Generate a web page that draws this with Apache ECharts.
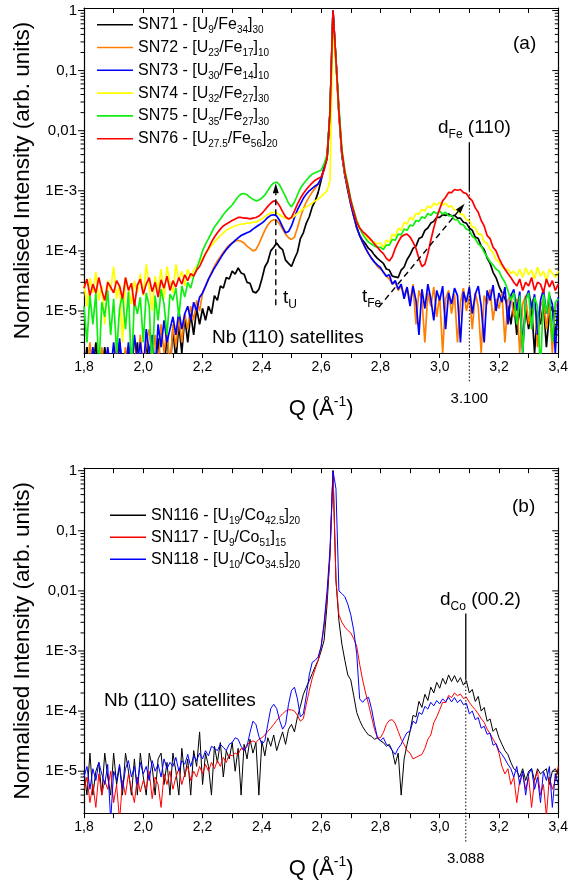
<!DOCTYPE html>
<html>
<head>
<meta charset="utf-8">
<script src="https://cdn.jsdelivr.net/npm/echarts@6.0.0/dist/echarts.min.js"></script>
<style>
  html, body { margin: 0; padding: 0; background: #fff; }
  #chart { width: 571px; height: 884px; }
</style>
</head>
<body>
<div id="chart"></div>
<script>
// ---- scan grid: Q in 1/Å, 0.01 steps from 1.80 to 3.40 ----
const Q_FIRST = 1.8, Q_LAST = 3.4;
const Q = [];
for (let i = 0; i <= 160; i++) Q.push(Math.round((Q_FIRST + i * 0.01) * 100) / 100);

// ---- panel (a): U/Fe multilayers ----
const feNames = ['SN71', 'SN72', 'SN73', 'SN74', 'SN75', 'SN76'];
const feU  = ['9', '23', '30', '32', '35', '27.5'];
const feFe = ['34', '17', '14', '27', '27', '56'];
const feN  = ['30', '10', '10', '30', '30', '20'];
const feColors = ['#000000', '#ff8000', '#0000ff', '#ffff00', '#10ee10', '#ff0000'];

const sn71 = [
  1e-6,2.5e-6,1e-6,1e-6,3e-6,1e-6,1e-6,2.5e-6,1e-6,1e-6,
  1e-6,1e-6,3e-6,1e-6,1e-6,2.5e-6,1e-6,1e-6,3e-6,1e-6,
  1e-6,3e-6,1e-6,2.5e-6,1e-6,3.5e-6,1e-6,1e-6,4e-6,1e-6,
  5e-6,1.5e-6,6e-6,2e-6,8e-6,3e-6,9e-6,4e-6,1.1e-5,6e-6,
  1.1e-5,7e-6,1.2e-5,9e-6,1.8e-5,1.5e-5,2.6e-5,2.4e-5,3.6e-5,3.4e-5,
  4.6e-5,4.1e-5,5.2e-5,4.3e-5,4.1e-5,3e-5,2.9e-5,2.1e-5,2e-5,2.3e-5,
  3.4e-5,5.4e-5,6.6e-5,1e-4,1.15e-4,1.35e-4,1.15e-4,1.05e-4,7e-5,6.2e-5,
  5.5e-5,7.4e-5,9.5e-5,1.6e-4,2e-4,2.9e-4,3.7e-4,5.4e-4,6.8e-4,9.4e-4,
  1.5e-3,2.4e-3,3.5e-3,0.02,1,0.15,0.02,4e-3,1.8e-3,1e-3,
  6e-4,3.8e-4,2.4e-4,1.8e-4,1.5e-4,1.3e-4,1.1e-4,1e-4,8.5e-5,7.5e-5,
  6.8e-5,6.2e-5,5e-5,4.8e-5,3.8e-5,3.7e-5,3.6e-5,4.8e-5,5.4e-5,7.2e-5,
  8.6e-5,1.1e-4,1.2e-4,1.6e-4,1.7e-4,2.2e-4,2.4e-4,2.9e-4,3.1e-4,3.6e-4,
  3.6e-4,4e-4,3.9e-4,4.1e-4,3.8e-4,3.9e-4,3.5e-4,3.5e-4,3e-4,2.9e-4,
  2.4e-4,2.2e-4,1.7e-4,1.6e-4,1.2e-4,1.05e-4,7.6e-5,6.2e-5,4.4e-5,3.6e-5,
  2.6e-5,2e-5,1.6e-5,1.2e-5,6e-6,1.4e-5,4e-6,1.2e-5,3e-6,1.1e-5,
  5e-6,1.2e-5,2e-6,1e-5,6e-6,1.3e-5,2.5e-6,9e-6,1.2e-5,4e-6,
  1e-5
];
const sn72 = [
  1e-6,1e-6,3e-6,1e-6,1e-6,1e-6,2.5e-6,1e-6,1e-6,1e-6,
  1e-6,3e-6,1e-6,1e-6,2.5e-6,1e-6,1e-6,3.5e-6,1e-6,4e-6,
  1e-6,3e-6,5e-6,1.5e-6,4e-6,1e-6,6e-6,2e-6,5e-6,1e-6,
  6e-6,2.5e-6,8e-6,3e-6,9e-6,5e-6,1.2e-5,7e-6,1.5e-5,1e-5,
  2e-5,2.6e-5,3.4e-5,4.4e-5,5.5e-5,6.8e-5,8e-5,9.5e-5,1.1e-4,1.25e-4,
  1.35e-4,1.45e-4,1.5e-4,1.45e-4,1.35e-4,1.2e-4,1.1e-4,1e-4,1.05e-4,1.3e-4,
  1.7e-4,2.2e-4,2.7e-4,3.1e-4,3.3e-4,3.2e-4,2.8e-4,2.3e-4,1.9e-4,1.65e-4,
  1.55e-4,1.7e-4,2.4e-4,3.6e-4,5e-4,6.5e-4,8e-4,9.5e-4,1.1e-3,1.3e-3,
  1.6e-3,2.4e-3,3.5e-3,0.02,1,0.15,0.02,4e-3,1.9e-3,1.1e-3,
  6e-4,3.8e-4,2.5e-4,1.8e-4,1.4e-4,1.1e-4,9e-5,7.5e-5,6.5e-5,5.5e-5,
  5e-5,4.5e-5,3.8e-5,3.4e-5,2.8e-5,3e-5,2.2e-5,2.6e-5,1.8e-5,2.5e-5,
  1.4e-5,2.8e-5,6e-6,2.2e-5,1.5e-5,3e-6,2e-5,1.2e-5,2.5e-5,8e-6,
  1.8e-5,2e-6,1.6e-5,2.2e-5,9e-6,1.9e-5,3e-6,1.4e-5,2.4e-5,1e-5,
  1.7e-5,5e-6,2e-5,1.2e-5,2e-6,1.8e-5,1.3e-5,2.3e-5,7e-6,1.6e-5,
  1.1e-5,2e-5,3e-6,1.5e-5,1.9e-5,8e-6,1.6e-5,2e-6,1.3e-5,1.8e-5,
  6e-6,1.4e-5,1.7e-5,2.5e-6,1.2e-5,1.6e-5,5e-6,1.4e-5,2e-6,1.1e-5,
  1.5e-5
];
const sn73 = [
  1e-6,1e-6,1e-6,2.5e-6,1e-6,1e-6,1e-6,1e-6,2.5e-6,1e-6,
  3e-6,1e-6,3.5e-6,1e-6,1e-6,3e-6,1e-6,4e-6,1.5e-6,3e-6,
  1e-6,5e-6,2e-6,4e-6,1e-6,6e-6,2.5e-6,7e-6,3e-6,5e-6,
  8e-6,4e-6,1e-5,5e-6,9e-6,1.2e-5,7e-6,1.4e-5,1e-5,1.7e-5,
  2e-5,2.6e-5,3.4e-5,4.2e-5,5.2e-5,6.2e-5,7.5e-5,9e-5,1.05e-4,1.2e-4,
  1.35e-4,1.5e-4,1.65e-4,1.8e-4,1.9e-4,2e-4,2.1e-4,2.3e-4,2.5e-4,2.7e-4,
  2.9e-4,3.2e-4,3.6e-4,3.9e-4,4e-4,3.8e-4,3.2e-4,2.5e-4,2e-4,2.1e-4,
  2.6e-4,3.6e-4,4.8e-4,6e-4,7.5e-4,8.8e-4,1e-3,1.1e-3,1.2e-3,1.3e-3,
  1.6e-3,2.4e-3,3.5e-3,0.02,1,0.15,0.02,4e-3,1.9e-3,1.1e-3,
  6e-4,3.8e-4,2.5e-4,1.8e-4,1.4e-4,1.1e-4,9e-5,7.5e-5,6.5e-5,5.8e-5,
  5.3e-5,4.4e-5,3.8e-5,4e-5,2.8e-5,3.2e-5,2.3e-5,2.8e-5,1.6e-5,2.5e-5,
  1.2e-5,2.6e-5,1.5e-5,4e-6,2.3e-5,1.1e-5,2.8e-5,1.6e-5,7e-6,2.2e-5,
  1.5e-5,2.6e-5,5e-6,2e-5,1.3e-5,2.4e-5,1.8e-5,3e-6,2.1e-5,1.4e-5,
  2.5e-5,9e-6,1.9e-5,2.6e-5,1.2e-5,3e-6,2.2e-5,1.5e-5,2.7e-5,1e-5,
  2e-5,1.4e-5,2.5e-5,6e-6,1.8e-5,2.3e-5,1e-5,2.1e-5,2e-6,1.6e-5,
  2.2e-5,1.1e-5,1.9e-5,4e-6,1.5e-5,2.3e-5,9e-6,1.8e-5,1.3e-5,2e-6,
  1.7e-5
];
const sn74 = [
  2.8e-5,1.2e-5,3.5e-5,2e-5,4.5e-5,1.5e-5,2.6e-5,6e-6,3.2e-5,2.2e-5,
  5.5e-5,1.6e-5,2.8e-5,3e-6,3.6e-5,2.4e-5,1.3e-5,3.2e-5,2e-5,4.2e-5,
  1.8e-5,6e-5,2.6e-5,1e-5,3.8e-5,2.2e-5,5e-5,1.6e-5,5.5e-5,3e-5,
  2e-5,6e-5,3.2e-5,4.6e-5,2.6e-5,5e-5,3.6e-5,4.8e-5,5.5e-5,6.5e-5,
  7.5e-5,9e-5,1.05e-4,1.25e-4,1.4e-4,1.6e-4,1.8e-4,2e-4,2.2e-4,2.35e-4,
  2.5e-4,2.6e-4,2.7e-4,2.8e-4,2.8e-4,2.9e-4,2.9e-4,3e-4,3e-4,3.2e-4,
  3.4e-4,3.7e-4,4e-4,4.3e-4,4.4e-4,4.3e-4,4e-4,3.7e-4,3.5e-4,3.4e-4,
  3.5e-4,3.8e-4,4.2e-4,4.6e-4,5e-4,5.4e-4,5.8e-4,6.3e-4,6.8e-4,7.3e-4,
  8e-4,9e-4,1e-3,1.5e-3,0.6,0.12,0.02,4.5e-3,2e-3,1.2e-3,
  7e-4,4.6e-4,3.2e-4,2.5e-4,2e-4,1.75e-4,1.6e-4,1.45e-4,1.4e-4,1.3e-4,
  1.35e-4,1.15e-4,1.5e-4,1.4e-4,1.9e-4,1.75e-4,2.35e-4,2.2e-4,3e-4,2.8e-4,
  3.6e-4,3.3e-4,4.2e-4,4.1e-4,4.9e-4,4.6e-4,5.6e-4,5.2e-4,6.2e-4,5.8e-4,
  6.4e-4,5.8e-4,6.2e-4,5.4e-4,5.6e-4,4.8e-4,4.8e-4,4.1e-4,4e-4,3.3e-4,
  3.2e-4,2.5e-4,2.45e-4,1.9e-4,1.9e-4,1.4e-4,1.35e-4,1.05e-4,9.5e-5,7.2e-5,
  6.5e-5,5.5e-5,4.8e-5,5e-5,4.2e-5,4.6e-5,3.8e-5,5e-5,3.6e-5,5.2e-5,
  4e-5,4.8e-5,3.4e-5,5.4e-5,3.8e-5,4.6e-5,3.2e-5,5e-5,4.2e-5,3.6e-5,
  4.6e-5
];
const sn75 = [
  1.2e-5,3e-6,1.8e-5,6e-6,2e-5,1e-6,1.4e-5,8e-6,2.2e-5,4e-6,
  1.6e-5,2e-6,1.1e-5,1.9e-5,5e-6,2.1e-5,1e-6,1.5e-5,9e-6,1.7e-5,
  3e-6,2e-5,1.2e-5,1e-6,1.8e-5,7e-6,2.3e-5,1.3e-5,4e-6,1.9e-5,
  1.5e-5,2.4e-5,8e-6,2.6e-5,1.7e-5,3e-5,2.4e-5,3.8e-5,5e-5,7e-5,
  1e-4,1.3e-4,1.6e-4,2e-4,2.5e-4,2.9e-4,3.4e-4,4e-4,4.6e-4,5.2e-4,
  5.8e-4,6.8e-4,8e-4,8.8e-4,9e-4,8.6e-4,7.8e-4,7.2e-4,6.8e-4,7e-4,
  7.6e-4,8.5e-4,1e-3,1.2e-3,1.35e-3,1.4e-3,1.25e-3,1e-3,8e-4,6.2e-4,
  5.4e-4,6.5e-4,8.5e-4,1.1e-3,1.3e-3,1.5e-3,1.7e-3,1.9e-3,2e-3,2.1e-3,
  2.2e-3,2.8e-3,4e-3,0.02,0.9,0.15,0.025,5e-3,2.2e-3,1.3e-3,
  7.2e-4,4.8e-4,3.2e-4,2.4e-4,1.9e-4,1.6e-4,1.4e-4,1.3e-4,1.2e-4,1.15e-4,
  1.15e-4,1.05e-4,1.25e-4,1.25e-4,1.55e-4,1.5e-4,1.9e-4,1.85e-4,2.3e-4,2.2e-4,
  2.7e-4,2.6e-4,3.2e-4,3.1e-4,3.7e-4,3.5e-4,4.2e-4,3.9e-4,4.5e-4,4.2e-4,
  4.6e-4,4.1e-4,4.4e-4,3.8e-4,3.9e-4,3.3e-4,3.3e-4,2.8e-4,2.7e-4,2.3e-4,
  2.2e-4,1.75e-4,1.6e-4,1.3e-4,1.2e-4,9.5e-5,8e-5,6.6e-5,5.8e-5,5e-5,
  4.6e-5,3.6e-5,3e-5,2.2e-5,1.5e-5,2e-5,6e-6,1.8e-5,2e-6,1.5e-5,
  2e-5,5e-6,1.7e-5,1.2e-5,1e-6,1.9e-5,9e-6,2.1e-5,3e-6,1.4e-5,
  1.6e-5
];
const sn76 = [
  2.4e-5,3.4e-5,1.8e-5,2.8e-5,2e-5,3.6e-5,2.2e-5,1.5e-5,3e-5,2.5e-5,
  2e-5,3.2e-5,2.6e-5,1.6e-5,3.6e-5,2.2e-5,2.9e-5,1.2e-5,2.7e-5,3.4e-5,
  1.9e-5,2.8e-5,3.6e-5,2.1e-5,3e-5,1.7e-5,3.3e-5,2.4e-5,3.8e-5,2.2e-5,
  3.2e-5,2.5e-5,3.6e-5,2.8e-5,4e-5,3.2e-5,4.2e-5,3.8e-5,4.8e-5,5.5e-5,
  7e-5,9e-5,1.1e-4,1.4e-4,1.7e-4,2e-4,2.3e-4,2.6e-4,2.8e-4,3e-4,
  3.2e-4,3.4e-4,3.6e-4,3.6e-4,3.5e-4,3.5e-4,3.4e-4,3.5e-4,3.6e-4,3.8e-4,
  4.2e-4,4.8e-4,5.5e-4,6.2e-4,6.8e-4,6.6e-4,5.6e-4,4.5e-4,3.7e-4,3.4e-4,
  3.6e-4,4.6e-4,6e-4,7.5e-4,9e-4,1.05e-3,1.2e-3,1.35e-3,1.5e-3,1.6e-3,
  1.7e-3,2.2e-3,3.5e-3,0.02,1,0.15,0.02,4.5e-3,2e-3,1.2e-3,
  6.8e-4,4.5e-4,3e-4,2.4e-4,2.1e-4,1.9e-4,1.7e-4,1.5e-4,1.3e-4,1.15e-4,
  1e-4,9e-5,7.5e-5,6.8e-5,8e-5,1.1e-4,1.4e-4,1.7e-4,1.85e-4,1.9e-4,
  1.7e-4,1.4e-4,1.1e-4,7.5e-5,5.5e-5,6e-5,9e-5,1.5e-4,2.4e-4,3.6e-4,
  5e-4,6.8e-4,7.8e-4,9.4e-4,9.3e-4,1.05e-3,1.02e-3,1.05e-3,9.3e-4,9e-4,
  7.6e-4,6.8e-4,5.2e-4,4.4e-4,3.2e-4,2.6e-4,1.8e-4,1.6e-4,1.15e-4,1e-4,
  7.5e-5,6e-5,5e-5,4.2e-5,3.6e-5,3e-5,2.6e-5,3.4e-5,2.2e-5,3e-5,
  2.6e-5,3.6e-5,2.2e-5,3e-5,2.8e-5,2e-5,3.4e-5,2.5e-5,3.2e-5,2.2e-5,
  2.8e-5
];

// ---- panel (b): U/Co multilayers ----
const coNames = ['SN116', 'SN117', 'SN118'];
const coU  = ['19', '9', '10'];
const coCo = ['42.5', '51', '34.5'];
const coN  = ['20', '15', '20'];
const coColors = ['#000000', '#ff0000', '#0000ff'];

const sn116 = [
  1e-5,4e-6,2e-5,4e-6,1e-5,1.4e-5,4e-6,2e-5,8e-6,4e-6,
  2e-5,6e-6,1.2e-5,4e-6,2e-5,1e-5,4e-6,1.6e-5,4e-6,2e-5,
  8e-6,4e-6,2e-5,1.2e-5,4e-6,1.6e-5,2e-5,6e-6,1.4e-5,4e-6,
  2e-5,1e-5,4e-6,2.4e-5,8e-6,1.6e-5,4e-6,2.2e-5,1.2e-5,4.5e-5,
  6e-6,2e-5,1.2e-5,4e-6,2.6e-5,1.4e-5,3e-5,8e-6,2.2e-5,1.6e-5,
  3e-5,1e-5,2.4e-5,4e-6,2.8e-5,1.6e-5,3.4e-5,2e-5,3e-5,4e-6,
  3.2e-5,1.8e-5,3.6e-5,2.6e-5,4e-5,2.2e-5,3.2e-5,4.5e-5,2.8e-5,5e-5,
  6e-5,4.5e-5,8e-5,1.2e-4,1.9e-4,2.5e-4,3.2e-4,4.2e-4,5.5e-4,7e-4,
  1e-3,1.5e-3,6e-3,0.04,1,0.015,3.2e-3,1.3e-3,7e-4,4e-4,
  3.3e-4,1.8e-4,9.5e-5,7e-5,5.5e-5,4.6e-5,4e-5,3.8e-5,3.4e-5,3.6e-5,
  3.2e-5,3e-5,2.6e-5,2.8e-5,2.2e-5,1.3e-5,2e-5,4e-6,1.6e-5,2.8e-5,
  4.6e-5,8.5e-5,8e-5,1.45e-4,1.15e-4,1.9e-4,1.5e-4,2.5e-4,2e-4,3e-4,
  2.4e-4,3.5e-4,2.8e-4,4e-4,3.1e-4,3.9e-4,3e-4,3.6e-4,2.7e-4,3.2e-4,
  2e-4,2.3e-4,1.45e-4,1.75e-4,1e-4,1.15e-4,6.8e-5,7.4e-5,4.6e-5,5.2e-5,
  3.6e-5,2.8e-5,2.2e-5,1.9e-5,1.4e-5,1.1e-5,1e-5,8e-6,1.1e-5,7e-6,
  1e-5,1.1e-5,7e-6,1.1e-5,9e-6,1e-5,1.1e-5,6e-6,1e-5,1.1e-5,
  9e-6
];
const sn117 = [
  5e-6,8e-6,3e-6,6e-6,2.5e-6,9e-6,4e-6,7e-6,5e-6,1e-5,
  3e-6,6e-6,1.5e-6,7e-6,4e-6,9e-6,5e-6,3e-6,8e-6,4.5e-6,
  7e-6,5e-6,1e-5,3.5e-6,8e-6,6e-6,2.5e-6,9e-6,6e-6,1e-5,
  5e-6,8e-6,1.1e-5,6e-6,9e-6,1.2e-5,7e-6,1e-5,8e-6,1.2e-5,
  9e-6,1.3e-5,1e-5,1.4e-5,1.1e-5,1.5e-5,1.2e-5,1.7e-5,1.4e-5,1.9e-5,
  1.8e-5,2e-5,1.9e-5,2.4e-5,2.2e-5,2.8e-5,3e-5,3.2e-5,3e-5,3.4e-5,
  3.6e-5,4e-5,4.6e-5,5.2e-5,6e-5,7e-5,8e-5,9e-5,1e-4,1.05e-4,
  1.05e-4,1e-4,8.5e-5,6.8e-5,7.5e-5,1.3e-4,2.2e-4,3.5e-4,5e-4,7e-4,
  1.2e-3,2.5e-3,8e-3,0.04,1,0.015,4e-3,3e-3,2.5e-3,2.2e-3,
  2e-3,1.6e-3,1.2e-3,6e-4,3.3e-4,2e-4,1.3e-4,8e-5,5e-5,3.6e-5,
  3.6e-5,4.4e-5,6e-5,7e-5,7.2e-5,6.2e-5,4.6e-5,3.4e-5,2.8e-5,2.2e-5,
  2e-5,1.6e-5,1.7e-5,1.8e-5,1.9e-5,2.4e-5,3.4e-5,4e-5,6.4e-5,8e-5,
  1.05e-4,1.4e-4,1.38e-4,1.82e-4,1.68e-4,2e-4,1.8e-4,1.92e-4,1.62e-4,1.7e-4,
  1.4e-4,1.2e-4,1.05e-4,9e-5,7.5e-5,6.5e-5,5e-5,4.2e-5,3.4e-5,2.8e-5,
  2e-5,1.2e-5,9e-6,1.1e-5,6e-6,8e-6,3e-6,7e-6,9e-6,5e-6,
  8e-6,2.5e-6,7e-6,1e-5,4e-6,6e-6,1.8e-6,8e-6,5e-6,7e-6,
  1.2e-5
];
const sn118 = [
  8e-6,1.2e-5,5e-6,1.1e-5,7e-6,1.4e-5,9e-6,6e-6,1.3e-5,1.5e-6,
  1e-5,7e-6,1.3e-5,5e-6,1.1e-5,1.5e-5,8e-6,1.2e-5,6e-6,1.4e-5,
  9e-6,1.2e-5,7e-6,1.5e-5,1e-5,1.3e-5,8e-6,1.6e-5,1.1e-5,1.4e-5,
  1.2e-5,1.7e-5,1e-5,1.5e-5,1.3e-5,1.9e-5,1.2e-5,1.8e-5,1.5e-5,2e-5,
  1.6e-5,2.2e-5,1.8e-5,2.6e-5,2.4e-5,2.2e-5,2.8e-5,2.5e-5,2.2e-5,2.8e-5,
  3e-5,3.6e-5,3.4e-5,2.6e-5,2.2e-5,2.6e-5,4.4e-5,6.8e-5,6e-5,3.8e-5,
  2.8e-5,3.2e-5,6e-5,1.1e-4,1.3e-4,1.1e-4,7e-5,5e-5,6e-5,1.3e-4,
  2.2e-4,2.5e-4,1.6e-4,8e-5,9e-5,1.8e-4,4e-4,6.5e-4,7e-4,8e-4,
  1.2e-3,3e-3,1e-2,0.05,1,0.5,1e-2,9e-3,8e-3,6e-3,
  4e-3,2.2e-3,9e-4,1.6e-4,1.4e-4,1.6e-4,1.7e-4,1.1e-4,6e-5,3.6e-5,
  3.2e-5,3.6e-5,2.8e-5,2.6e-5,2.2e-5,1.9e-5,2.4e-5,2.8e-5,3.6e-5,4.4e-5,
  4.6e-5,6.8e-5,6.2e-5,9.5e-5,8.8e-5,1.2e-4,1.08e-4,1.4e-4,1.22e-4,1.5e-4,
  1.32e-4,1.6e-4,1.42e-4,1.7e-4,1.42e-4,1.68e-4,1.38e-4,1.55e-4,1.28e-4,1.35e-4,
  9e-5,1e-4,7.2e-5,7.8e-5,5.2e-5,5.6e-5,4.1e-5,4.3e-5,2.7e-5,2.9e-5,
  2.2e-5,1.9e-5,1.6e-5,1.3e-5,1.1e-5,8e-6,1.2e-5,6e-6,1e-5,4e-6,
  9e-6,1.1e-5,5e-6,8e-6,3e-6,1e-5,7e-6,1.2e-5,2.5e-6,9e-6,
  6e-6
];

// ---- annotation anchors (Q in 1/Å, intensity) ----
const feMarkQ = 3.1;      // d_Fe (110)
const coMarkQ = 3.088;    // d_Co (00.2)
const tUArrow  = { from: [2.447, 1.25e-5], to: [2.447, 1.34e-3] };
const tFeArrow = { from: [2.794, 1.15e-5], to: [3.084, 6.1e-4] };

// ---- axes ----
const Y_MIN = 2e-6, Y_MAX = 1.1;
const F = "'Liberation Sans', Arial, Helvetica, sans-serif";

function yLabel(v) {
  const l = Math.log10(v), e = Math.round(l);
  if (Math.abs(l - e) > 1e-6) return '';
  if (e === 0) return '1';
  if (e === -1) return '0,1';
  if (e === -2) return '0,01';
  return '1E' + e;
}
function xLabel(v) {
  const k = Math.round(v * 10);
  return k % 2 === 0 ? (k / 10).toFixed(1).replace('.', ',') : '';
}

// decade and sub-decade tick marks for the logarithmic intensity axes
const yTicks = [];
for (let d = -6; d <= 0; d++) {
  for (let m = 1; m <= 9; m++) {
    const v = m * Math.pow(10, d);
    if (v > Y_MIN * 1.01 && v <= 1.0000001) yTicks.push([Q_FIRST, v, m === 1 ? 6 : 3.5]);
  }
}

const grids = [
  { left: 84, width: 479, top: 8, height: 345 },
  { left: 84, width: 479, top: 468.2, height: 345 }
];

const qTitleRich = {
  m: { fontSize: 22, lineHeight: 28, fontFamily: F, color: '#000', verticalAlign: 'middle' },
  p: { fontSize: 14, lineHeight: 6, fontFamily: F, color: '#000', verticalAlign: 'top' }
};

function xAxes(g) {
  return [
    {
      type: 'value', gridIndex: g, position: 'bottom', min: Q_FIRST, max: Q_LAST, interval: 0.1,
      axisLine: { show: true, onZero: false, lineStyle: { color: '#000', width: 1.2 } },
      axisTick: { show: true, inside: false, length: 5, lineStyle: { color: '#000', width: 1 } },
      axisLabel: { formatter: xLabel, fontSize: 14, fontFamily: F, color: '#000', margin: 7 },
      splitLine: { show: false },
      name: '{m|Q (Å}{p|-1}{m|)}', nameLocation: 'middle', nameGap: 42,
      nameTextStyle: { rich: qTitleRich, fontFamily: F, fontSize: 22, color: '#000' }
    },
    {
      type: 'value', gridIndex: g, position: 'top', min: Q_FIRST, max: Q_LAST, interval: 0.1,
      axisLine: { show: true, onZero: false, lineStyle: { color: '#000', width: 1.2 } },
      axisTick: { show: true, inside: true, length: 5, lineStyle: { color: '#000', width: 1 } },
      axisLabel: { show: false }, splitLine: { show: false }
    }
  ];
}
function yAxes(g) {
  return [
    {
      type: 'log', logBase: 10, gridIndex: g, position: 'left', min: Y_MIN, max: Y_MAX, splitNumber: 6,
      axisLine: { show: true, onZero: false, lineStyle: { color: '#000', width: 1.2 } },
      axisTick: { show: false },
      axisLabel: { formatter: yLabel, fontSize: 15, fontFamily: F, color: '#000', margin: 7 },
      splitLine: { show: false },
      name: 'Normalised Intensity (arb. units)', nameLocation: 'middle', nameGap: 50,
      nameTextStyle: { fontSize: 22.5, fontFamily: F, color: '#000' }
    },
    {
      type: 'log', logBase: 10, gridIndex: g, position: 'right', min: Y_MIN, max: Y_MAX, splitNumber: 6,
      axisLine: { show: true, onZero: false, lineStyle: { color: '#000', width: 1.2 } },
      axisTick: { show: false }, axisLabel: { show: false }, splitLine: { show: false }
    }
  ];
}

function tickSeries(g) {
  return {
    type: 'custom', xAxisIndex: 2 * g, yAxisIndex: 2 * g, silent: true, clip: false, z: 5,
    data: yTicks,
    renderItem(params, api) {
      const v = api.value(1), len = api.value(2);
      const l = api.coord([Q_FIRST, v]), r = api.coord([Q_LAST, v]);
      return {
        type: 'group',
        children: [
          { type: 'line', shape: { x1: l[0] - len, y1: l[1], x2: l[0], y2: l[1] }, style: { stroke: '#000', lineWidth: 1 } },
          { type: 'line', shape: { x1: r[0] - len, y1: r[1], x2: r[0], y2: r[1] }, style: { stroke: '#000', lineWidth: 1 } }
        ]
      };
    }
  };
}

const pairs = vals => Q.map((q, i) => [q, vals[i]]);

function lineSeries(name, vals, color, g, width) {
  return {
    name, type: 'line', xAxisIndex: 2 * g, yAxisIndex: 2 * g, data: pairs(vals),
    symbol: 'none', showSymbol: false, clip: true,
    lineStyle: { color, width }, itemStyle: { color }, z: 2
  };
}

const legendRich = {
  m: { fontSize: 16, lineHeight: 22, fontFamily: F, color: '#000', verticalAlign: 'middle' },
  s: { fontSize: 10, lineHeight: 6, fontFamily: F, color: '#000', verticalAlign: 'bottom' }
};
function stackLabel(names, u, el, elName, n) {
  return name => {
    const i = names.indexOf(name);
    return '{m|' + name + ' - [U}{s|' + u[i] + '}{m|/' + elName + '}{s|' + el[i] + '}{m|]}{s|' + n[i] + '}';
  };
}

const feData = [sn71, sn72, sn73, sn74, sn75, sn76];
const coData = [sn116, sn117, sn118];

const series = [];
feNames.forEach((n, i) => series.push(lineSeries(n, feData[i], feColors[i], 0, 1.7)));
coNames.forEach((n, i) => series.push(lineSeries(n, coData[i], coColors[i], 1, 1)));
series.push(tickSeries(0), tickSeries(1));

// legend key: a short horizontal stroke in the series colour
const legendBase = {
  orient: 'vertical', padding: 0, icon: 'rect',
  itemWidth: 36, itemHeight: 1.6, selectedMode: false,
  textStyle: { fontSize: 16, fontFamily: F, color: '#000', rich: legendRich }
};

const chart = echarts.init(document.getElementById('chart'), null, { renderer: 'canvas' });
chart.setOption({
  animation: false,
  backgroundColor: '#fff',
  grid: grids,
  xAxis: [...xAxes(0), ...xAxes(1)],
  yAxis: [...yAxes(0), ...yAxes(1)],
  legend: [
    Object.assign({}, legendBase, {
      data: feNames, left: 97, top: 16.7, itemGap: 3.8,
      formatter: stackLabel(feNames, feU, feFe, 'Fe', feN)
    }),
    Object.assign({}, legendBase, {
      data: coNames, left: 110, top: 507.3, itemGap: 3,
      formatter: stackLabel(coNames, coU, coCo, 'Co', coN)
    })
  ],
  series
});

// ---- annotations placed through the axes' own scales ----
const px = (g, q, v) => chart.convertToPixel({ xAxisIndex: 2 * g, yAxisIndex: 2 * g }, [q, v]);
const annRich = {
  m: { fontSize: 19, lineHeight: 26, fontFamily: F, color: '#000', verticalAlign: 'middle' },
  s: { fontSize: 12, lineHeight: 8, fontFamily: F, color: '#000', verticalAlign: 'bottom' }
};
const els = [];
function seg(p0, p1, style) {
  els.push({ type: 'line', z: 50, silent: true,
    shape: { x1: p0[0], y1: p0[1], x2: p1[0], y2: p1[1] },
    style: Object.assign({ stroke: '#000', lineWidth: 1 }, style) });
}
function arrow(p0, p1) {
  const dx = p1[0] - p0[0], dy = p1[1] - p0[1], L = Math.hypot(dx, dy);
  const ux = dx / L, uy = dy / L, head = 10, half = 3;
  const b = [p1[0] - ux * head, p1[1] - uy * head];
  seg(p0, b, { lineWidth: 1.4, lineDash: [6, 4] });
  els.push({ type: 'polygon', z: 50, silent: true,
    shape: { points: [p1, [b[0] + uy * half, b[1] - ux * half], [b[0] - uy * half, b[1] + ux * half]] },
    style: { fill: '#000' } });
}
function label(x, y, text, extra) {
  els.push({ type: 'text', z: 50, silent: true, x, y,
    style: Object.assign({ text, rich: annRich, fontFamily: F, fontSize: 19, fill: '#000',
      align: 'left', verticalAlign: 'middle' }, extra || {}) });
}
function peakMarker(g, q, vTop, vBottom) {
  const base = px(g, q, Y_MIN)[1];
  const a = px(g, q, vTop), b = px(g, q, vBottom);
  seg(a, b, { lineWidth: 1.3 });
  seg(b, [b[0], base + 29], { lineWidth: 1, lineDash: [1.5, 2] });
  label(b[0], base + 46, q.toFixed(3), { align: 'center', fontSize: 15 });
}

// panel (a)
peakMarker(0, feMarkQ, 6.4e-3, 1.0e-3);
arrow(px(0, tUArrow.from[0], tUArrow.from[1]), px(0, tUArrow.to[0], tUArrow.to[1]));
arrow(px(0, tFeArrow.from[0], tFeArrow.from[1]), px(0, tFeArrow.to[0], tFeArrow.to[1]));
label(438, 127.6, '{m|d}{s|Fe}{m| (110)}');
label(283, 298, '{m|t}{s|U}');
label(362, 296.3, '{m|t}{s|Fe}');
label(212, 337.6, 'Nb (110) satellites');
label(513, 43.5, '(a)');

// panel (b)
peakMarker(1, coMarkQ, 4.2e-3, 3.4e-4);
label(440, 599.3, '{m|d}{s|Co}{m| (00.2)}');
label(104, 701, 'Nb (110) satellites');
label(512, 506.3, '(b)');

chart.setOption({ graphic: els });
</script>
</body>
</html>
